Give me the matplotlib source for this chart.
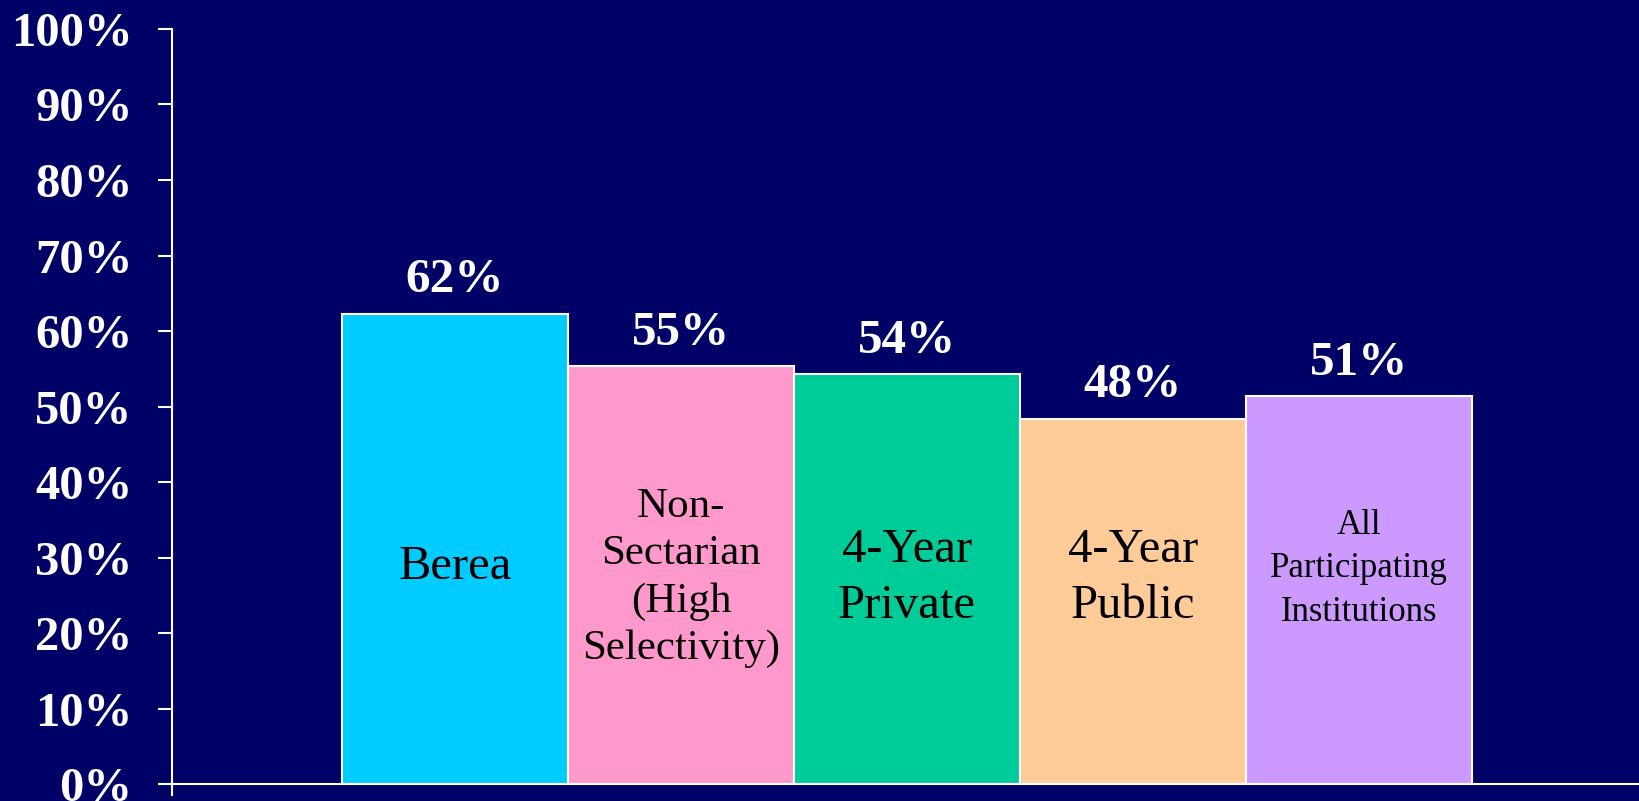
import matplotlib.pyplot as plt

# chart data
categories = ["Berea", "Non-\nSectarian\n(High\nSelectivity)", "4-Year\nPrivate",
              "4-Year\nPublic", "All\nParticipating\nInstitutions"]
values = [62.3, 55.3, 54.3, 48.4, 51.4]
value_labels = ["62%", "55%", "54%", "48%", "51%"]
colors = ["#00CCFF", "#FF99CC", "#00CC99", "#FFCC99", "#CC99FF"]
yticks = list(range(0, 101, 10))
ytick_labels = [f"{t}%" for t in yticks]

bg = "#000066"
plt.rcParams["font.family"] = ["Liberation Serif", "DejaVu Serif"]

fig = plt.figure(figsize=(16.39, 8.01), dpi=100, facecolor=bg)
ax = fig.add_axes([0.105, 0.0212, 0.895, 0.9426], facecolor=bg)

x = list(range(len(values)))
ax.bar(x, values, width=1.0, color=colors, edgecolor="white", linewidth=1.5)

# value labels above bars
for xi, v, lab in zip(x, values, value_labels):
    ax.text(xi, v + 2.8, lab, ha="center", va="baseline", color="white",
            fontsize=35.5, fontweight="bold")

# category labels inside bars
label_y = [28.8, 27.3, 27.3, 27.3, 28.5]
label_size = [35, 31, 35, 35, 25]
label_spacing = [1.3, 1.3, 1.35, 1.35, 1.42]
for xi, cat, ly, fs, ls in zip(x, categories, label_y, label_size, label_spacing):
    ax.text(xi, ly, cat, ha="center", va="center", color="black",
            fontsize=fs, linespacing=ls)

ax.set_xlim(-1.252, 5.24)
ax.set_ylim(0, 100)
ax.set_yticks(yticks)
ax.set_yticklabels(ytick_labels, fontsize=35, fontweight="bold", color="white")
ax.tick_params(axis="y", direction="out", length=10, width=1.5, color="white", pad=18.5)
ax.set_xticks([])

for side in ["top", "right"]:
    ax.spines[side].set_visible(False)
ax.spines["left"].set_color("white")
ax.spines["left"].set_linewidth(1.5)
ax.spines["left"].set_bounds(-1.5, 100)
ax.spines["bottom"].set_color("white")
ax.spines["bottom"].set_linewidth(1.5)

fig.savefig("out.png", dpi=100, facecolor=bg)
